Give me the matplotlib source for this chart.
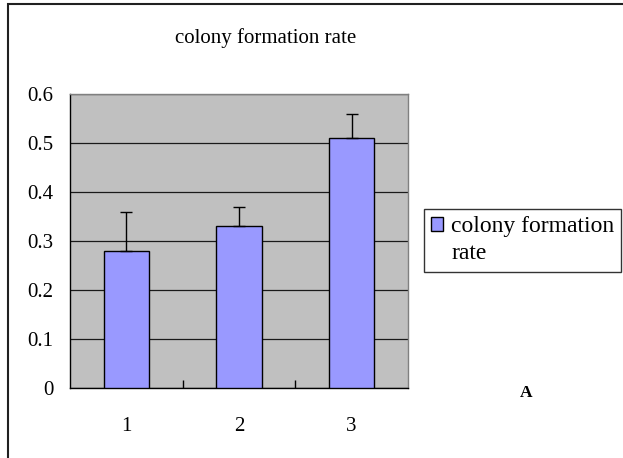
import matplotlib
matplotlib.use("Agg")
import matplotlib.pyplot as plt
from matplotlib.patches import Rectangle
from matplotlib.legend_handler import HandlerPatch
from matplotlib.container import BarContainer

categories = ["1", "2", "3"]
values = [0.28, 0.33, 0.51]
errors = [0.08, 0.04, 0.05]
series_name = "colony formation\nrate"
title = "colony formation rate"
yticks = [0, 0.1, 0.2, 0.3, 0.4, 0.5, 0.6]
ytick_labels = ["0", "0.1", "0.2", "0.3", "0.4", "0.5", "0.6"]

FONT = "Liberation Serif"
plt.rcParams["font.family"] = [FONT, "DejaVu Sans"]

fig = plt.figure(figsize=(6.23, 4.58), dpi=100)
fig.patch.set_facecolor("white")

# outer chart frame (cropped at right/bottom)
frame = Rectangle((7.5 / 623, -0.2), 2.0, 1.2 - 3.5 / 458, transform=fig.transFigure,
                  fill=False, edgecolor="#202020", linewidth=1.5, clip_on=False)
fig.add_artist(frame)

ax = fig.add_axes([70 / 623, 1 - 388 / 458, (408 - 70) / 623, (388 - 94) / 458])
ax.set_facecolor("#C0C0C0")
x = list(range(len(categories)))
ax.bar(x, values, width=0.4, color="#9999FF", edgecolor="black", linewidth=1.0,
       zorder=3, label=series_name)
ax.errorbar(x, values, yerr=[[0] * len(errors), errors], fmt="none", ecolor="black",
            elinewidth=1.0, capsize=4, capthick=1.0, zorder=4)

ax.set_xlim(-0.5, len(categories) - 0.5)
ax.set_ylim(0, 0.6)
ax.set_yticks(yticks)
ax.set_yticklabels(ytick_labels)
ax.yaxis.grid(True, color="#1a1a1a", linewidth=0.9, zorder=1)
ax.set_axisbelow(True)
ax.set_xticks(x)
ax.set_xticklabels(categories)
ax.set_xticks([0.5, 1.5], minor=True)
ax.tick_params(axis="x", which="major", length=0, pad=21, labelsize=15)
ax.tick_params(axis="x", which="minor", direction="in", length=6, width=1, color="black")
ax.tick_params(axis="y", which="major", direction="in", length=0, pad=12, labelsize=15)

for s in ["left", "bottom"]:
    ax.spines[s].set_color("black")
    ax.spines[s].set_linewidth(1.0)
for s in ["top", "right"]:
    ax.spines[s].set_color("#808080")
    ax.spines[s].set_linewidth(1.0)

fig.text(266 / 623, 1 - 38 / 458, title, ha="center", va="center", fontsize=15)


class UpHandler(HandlerPatch):
    def __init__(self, shift, **kw):
        super().__init__(**kw)
        self.shift = shift

    def create_artists(self, legend, orig_handle, xdescent, ydescent, width, height,
                       fontsize, trans):
        r = Rectangle((-xdescent, -ydescent + self.shift * fontsize), width, height,
                      facecolor="#9999FF", edgecolor="black", linewidth=1.0, transform=trans)
        return [r]


LEG_FS = 17
handles, labels = ax.get_legend_handles_labels()
leg = fig.legend(handles, labels, loc="upper left", bbox_to_anchor=(424 / 623, 1 - 209 / 458),
                 frameon=True, fancybox=False, shadow=False, fontsize=LEG_FS,
                 handlelength=0.5, handleheight=0.58, handletextpad=0.35,
                 borderpad=0.3, borderaxespad=0, labelspacing=0.2,
                 handler_map={BarContainer: UpHandler(0.68)})
leg.get_frame().set_edgecolor("black")
leg.get_frame().set_linewidth(1.0)
for t in leg.get_texts():
    t.set_linespacing(1.4)

fig.text(526 / 623, 1 - 393 / 458, "A", ha="center", va="center", fontsize=12.5,
         fontweight="bold")

fig.savefig("out.png", dpi=100)
